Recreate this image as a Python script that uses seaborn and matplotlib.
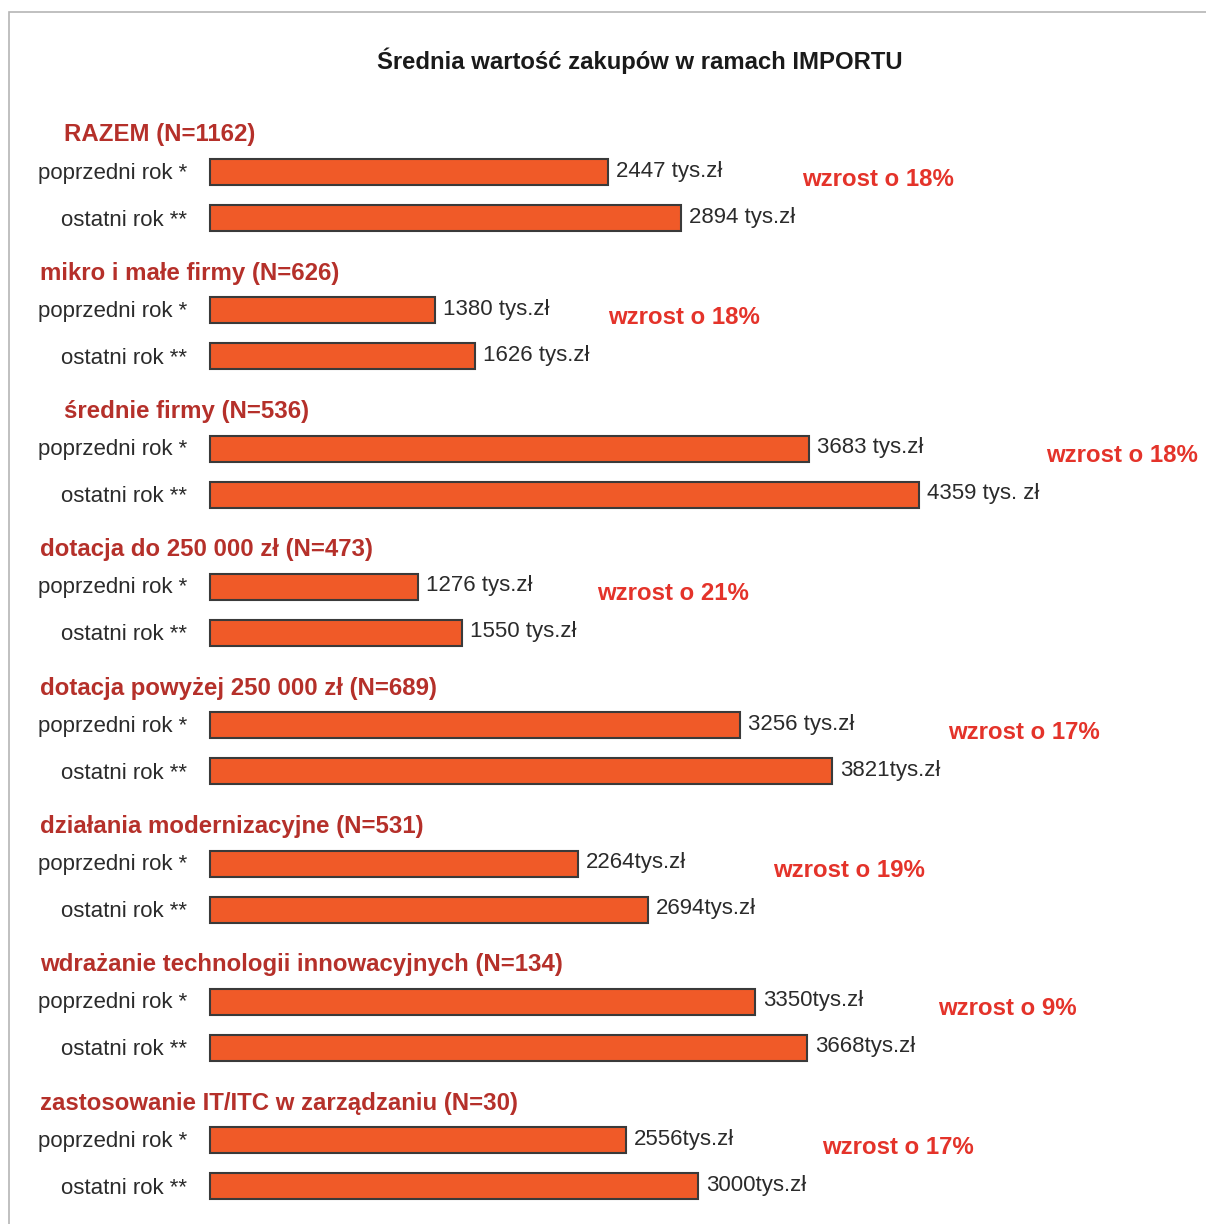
import seaborn as sns
import matplotlib.pyplot as plt
import matplotlib.patches as mpatches
import pandas as pd
import numpy as np

# --- Datos ---
grupos = ['RAZEM (N=1162)', 'mikro i małe firmy (N=626)', 'średnie firmy (N=536)',
          'dotacja do 250 000 zł (N=473)', 'dotacja powyżej 250 000 zł (N=689)',
          'działania modernizacyjne (N=531)', 'wdrażanie technologii innowacyjnych (N=134)',
          'zastosowanie IT/ITC w zarządzaniu (N=30)']
okresy = ['poprzedni rok *', 'ostatni rok **']
poprzedni = [2447, 1380, 3683, 1276, 3256, 2264, 3350, 2556]
ostatni = [2894, 1626, 4359, 1550, 3821, 2694, 3668, 3000]
etykiety_poprzedni = ['2447 tys.zł', '1380 tys.zł', '3683 tys.zł', '1276 tys.zł',
                      '3256 tys.zł', '2264tys.zł', '3350tys.zł', '2556tys.zł']
etykiety_ostatni = ['2894 tys.zł', '1626 tys.zł', '4359 tys. zł', '1550 tys.zł',
                    '3821tys.zł', '2694tys.zł', '3668tys.zł', '3000tys.zł']
wzrost = ['wzrost o 18%', 'wzrost o 18%', 'wzrost o 18%', 'wzrost o 21%',
          'wzrost o 17%', 'wzrost o 19%', 'wzrost o 9%', 'wzrost o 17%']
tytul = 'Średnia wartość zakupów w ramach IMPORTU'

# --- Estilo ---
sns.set_theme(style="white")
plt.rcParams['font.family'] = ['Liberation Sans', 'DejaVu Sans']

KOLOR_SLUPKA = '#F05A28'
KOLOR_NAGLOWKA = '#B5302A'
KOLOR_WZROSTU = '#E4332A'
KOLOR_TEKSTU = '#2b2b2b'

# --- Układ (piksele) ---
W, H = 1206, 1224
X0 = 210          # początek słupków
SKALA = 0.1627    # px na jednostkę
ODSTEP = 138.3    # odstęp między grupami
Y0 = 172          # środek pierwszego słupka
DY = 46           # odstęp między słupkami w grupie
wciecia = [64, 40, 64, 40, 40, 40, 40, 40]
przesun_wzrost = [121, 134, 127, 135, 116, 125, 131, 124]

def px(x):
    return (x - X0) / SKALA

y_prev = [Y0 + i * ODSTEP for i in range(len(grupos))]
y_last = [y + DY for y in y_prev]

df = pd.DataFrame({
    'wartosc': poprzedni + ostatni,
    'y': y_prev + y_last,
})

fig = plt.figure(figsize=(W / 100, H / 100), dpi=100)
ax = fig.add_axes([0, 0, 1, 1])

sns.barplot(data=df, x='wartosc', y='y', orient='h', native_scale=True,
            width=26 / DY, color=KOLOR_SLUPKA, saturation=1,
            edgecolor='#3a3a3a', linewidth=1.5, errorbar=None, ax=ax)

ax.set_xlim(px(0), px(W))
ax.set_ylim(H, 0)
ax.axis('off')

# Tytuł
ax.text(px(640), 61, tytul, ha='center', va='center', fontsize=17.2,
        fontweight='bold', color='#1a1a1a')

for i, g in enumerate(grupos):
    yp, yl = y_prev[i], y_last[i]
    ax.text(px(wciecia[i]), yp - 37, g, ha='left', va='center', fontsize=17.3,
            fontweight='bold', color=KOLOR_NAGLOWKA)
    ax.text(px(187), yp + 1, okresy[0], ha='right', va='center', fontsize=16,
            color=KOLOR_TEKSTU)
    ax.text(px(187), yl + 2, okresy[1], ha='right', va='center', fontsize=16,
            color=KOLOR_TEKSTU)
    ax.text(poprzedni[i] + 8 / SKALA, yp - 1, etykiety_poprzedni[i], ha='left',
            va='center', fontsize=16, color=KOLOR_TEKSTU)
    ax.text(ostatni[i] + 8 / SKALA, yl - 1, etykiety_ostatni[i], ha='left',
            va='center', fontsize=16, color=KOLOR_TEKSTU)
    ax.text(max(poprzedni[i], ostatni[i]) + przesun_wzrost[i] / SKALA,
            (yp + yl) / 2 - 16, wzrost[i], ha='left', va='center',
            fontsize=17.3, fontweight='bold', color=KOLOR_WZROSTU)

# Ramka
fig.patches.append(mpatches.Rectangle((9 / W, -0.1), 2, 1 - 12 / H + 0.1,
                                      transform=fig.transFigure, fill=False,
                                      edgecolor='#b5b5b5', linewidth=1.2))

fig.savefig('out.png', dpi=100)
